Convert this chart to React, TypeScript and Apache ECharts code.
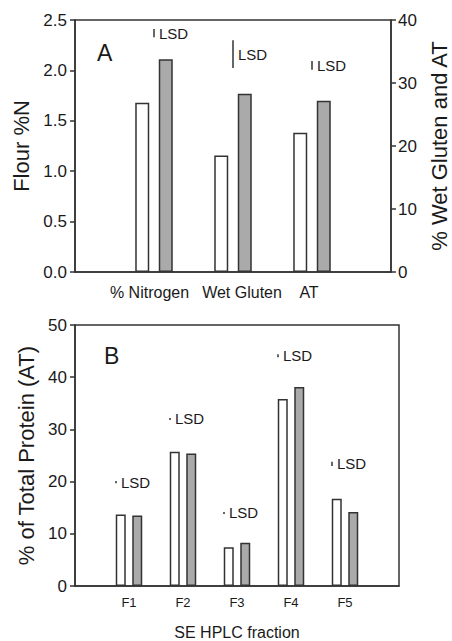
import React, { useEffect, useRef } from 'react';
import * as echarts from 'echarts';

// Panel A
const categoriesA = ['% Nitrogen', 'Wet Gluten', 'AT'];
const flourNWhite = 1.68; // left axis (Flour %N)
const flourNGrey = 2.11;
const glutenATWhite = [18.5, 22.1]; // right axis: Wet Gluten, AT
const glutenATGrey = [28.3, 27.2];
const lsdNitrogen = [2.37, 0.08]; // [mid, length] on left axis
const lsdGlutenATMid = [34.6, 32.8];
const lsdGlutenATLen = [4.4, 1.4];

// Panel B
const categoriesB = ['F1', 'F2', 'F3', 'F4', 'F5'];
const totalWhite = [13.7, 25.7, 7.4, 35.8, 16.7];
const totalGrey = [13.5, 25.4, 8.3, 38.1, 14.2];
const lsdBMid = [19.9, 32.0, 14.0, 44.1, 23.4];
const lsdBLen = [0.4, 0.4, 0.4, 0.6, 0.8];

const FONT = '"Liberation Sans", Arial, sans-serif';
const INK = '#1a1a1a';
const LINE = '#333';
const GREY = '#aaaaaa';

function lsdRender(dx: number) {
  return (params: any, api: any) => {
    const cat = api.value(0);
    const mid = api.value(1);
    const len = api.value(2);
    const top = api.coord([cat, mid + len / 2]);
    const bot = api.coord([cat, mid - len / 2]);
    const x = top[0] + dx;
    return {
      type: 'group',
      children: [
        { type: 'line', shape: { x1: x, y1: top[1], x2: x, y2: bot[1] }, style: { stroke: LINE, lineWidth: 1.5 } },
        {
          type: 'text',
          x: x + 5,
          y: (top[1] + bot[1]) / 2,
          style: { text: 'LSD', fontSize: 15, fontFamily: FONT, fill: INK, align: 'left', verticalAlign: 'middle' },
        },
      ],
    };
  };
}

export default function App() {
  const ref = useRef<HTMLDivElement>(null);
  useEffect(() => {
    if (!ref.current) return;
    const chart = echarts.init(ref.current, undefined, { renderer: 'svg' });
    const catsA = ['', ...categoriesA, ''];
    const catsAItems = [
      '',
      { value: categoriesA[0], textStyle: { padding: [0, 9, 0, 0] } },
      { value: categoriesA[1], textStyle: { padding: [0, 0, 0, 18] } },
      { value: categoriesA[2], textStyle: { padding: [0, 6, 0, 0] } },
      '',
    ];
    const catsB = ['', ...categoriesB, ''];
    const nWhite = catsA.map((_, i) => (i === 1 ? flourNWhite : null));
    const nGrey = catsA.map((_, i) => (i === 1 ? flourNGrey : null));
    const gWhite = catsA.map((_, i) => (i >= 2 && i <= 3 ? glutenATWhite[i - 2] : null));
    const gGrey = catsA.map((_, i) => (i >= 2 && i <= 3 ? glutenATGrey[i - 2] : null));
    const bWhite = [null, ...totalWhite, null];
    const bGrey = [null, ...totalGrey, null];

    const axisLine = { show: true, lineStyle: { color: LINE, width: 1.5 } };
    const yTick = { show: true, length: 5, inside: false, lineStyle: { color: LINE, width: 1.5 } };
    const yLabel = { color: INK, fontSize: 17, fontFamily: FONT };
    const yName = { color: INK, fontSize: 22, fontFamily: FONT };

    const whiteStyle = { color: '#ffffff', borderColor: LINE, borderWidth: 1.5 };
    const greyStyle = { color: GREY, borderColor: LINE, borderWidth: 1.5 };

    chart.setOption({
      animation: false,
      textStyle: { fontFamily: FONT },
      grid: [
        { left: 75, top: 20, width: 316, height: 252, outerBoundsMode: 'none', containLabel: false, show: true, borderColor: LINE, borderWidth: 1.5, backgroundColor: 'transparent' },
        { left: 75, top: 325, width: 324, height: 261, outerBoundsMode: 'none', containLabel: false, show: true, borderColor: LINE, borderWidth: 1.5, backgroundColor: 'transparent' },
      ],
      graphic: [
        { type: 'text', left: 97, top: 41, style: { text: 'A', fontSize: 23, fontFamily: FONT, fill: INK } },
        { type: 'text', left: 104, top: 344, style: { text: 'B', fontSize: 23, fontFamily: FONT, fill: INK } },
      ],
      xAxis: [
        {
          gridIndex: 0, type: 'category', data: catsAItems, boundaryGap: false,
          axisLine, axisTick: { show: false },
          axisLabel: { interval: 0, fontSize: 16, margin: 12, color: INK, fontFamily: FONT },
        },
        { gridIndex: 0, type: 'category', data: catsA, boundaryGap: false, show: false },
        {
          gridIndex: 1, type: 'category', data: catsB, boundaryGap: false,
          axisLine, axisTick: { show: false },
          axisLabel: { interval: 0, fontSize: 13, margin: 10, color: INK, fontFamily: FONT },
          name: 'SE HPLC fraction', nameLocation: 'middle', nameGap: 38,
          nameTextStyle: { color: INK, fontSize: 16, fontFamily: FONT },
        },
      ],
      yAxis: [
        {
          gridIndex: 0, type: 'value', position: 'left', min: 0, max: 2.5, interval: 0.5,
          axisLine, axisTick: yTick, splitLine: { show: false },
          axisLabel: { ...yLabel, margin: 8, formatter: (v: number) => v.toFixed(1) },
          name: 'Flour %N', nameLocation: 'middle', nameRotate: 90, nameGap: 37, nameTextStyle: yName,
        },
        {
          gridIndex: 0, type: 'value', position: 'right', min: 0, max: 40, interval: 10,
          axisLine, axisTick: yTick, splitLine: { show: false },
          axisLabel: { ...yLabel, margin: 7 },
          name: '% Wet Gluten and AT', nameLocation: 'middle', nameRotate: 90, nameGap: 37, nameTextStyle: yName,
        },
        {
          gridIndex: 1, type: 'value', position: 'left', min: 0, max: 50, interval: 10,
          axisLine, axisTick: yTick, splitLine: { show: false },
          axisLabel: { ...yLabel, margin: 8 },
          name: '% of Total Protein (AT)', nameLocation: 'middle', nameRotate: 90, nameGap: 37, nameTextStyle: yName,
        },
      ],
      series: [
        { type: 'bar', name: 'Treatment 1', xAxisIndex: 0, yAxisIndex: 0, data: nWhite, barWidth: 14, barGap: '68%', itemStyle: whiteStyle },
        { type: 'bar', name: 'Treatment 2', xAxisIndex: 0, yAxisIndex: 0, data: nGrey, barWidth: 14, barGap: '68%', itemStyle: greyStyle },
        { type: 'bar', name: 'Treatment 1', xAxisIndex: 1, yAxisIndex: 1, data: gWhite, barWidth: 14, barGap: '68%', itemStyle: whiteStyle },
        { type: 'bar', name: 'Treatment 2', xAxisIndex: 1, yAxisIndex: 1, data: gGrey, barWidth: 14, barGap: '68%', itemStyle: greyStyle },
        { type: 'bar', name: 'Treatment 1', xAxisIndex: 2, yAxisIndex: 2, data: bWhite, barWidth: 10, barGap: '65%', itemStyle: whiteStyle },
        { type: 'bar', name: 'Treatment 2', xAxisIndex: 2, yAxisIndex: 2, data: bGrey, barWidth: 10, barGap: '65%', itemStyle: greyStyle },
        {
          type: 'custom', name: 'LSD N', xAxisIndex: 0, yAxisIndex: 0, encode: { x: 0, y: 1 },
          data: [[1, lsdNitrogen[0], lsdNitrogen[1]]], renderItem: lsdRender(0),
        },
        {
          type: 'custom', name: 'LSD Gluten AT', xAxisIndex: 1, yAxisIndex: 1, encode: { x: 0, y: 1 },
          data: lsdGlutenATMid.map((m, i) => [i + 2, m, lsdGlutenATLen[i]]), renderItem: lsdRender(0),
        },
        {
          type: 'custom', name: 'LSD B', xAxisIndex: 2, yAxisIndex: 2, encode: { x: 0, y: 1 },
          data: lsdBMid.map((m, i) => [i + 1, m, lsdBLen[i]]), renderItem: lsdRender(-13),
        },
      ],
    });
    return () => chart.dispose();
  }, []);
  return <div ref={ref} style={{ position: 'fixed', left: 0, top: 0, width: 452, height: 641, background: '#fff' }} />;
}
